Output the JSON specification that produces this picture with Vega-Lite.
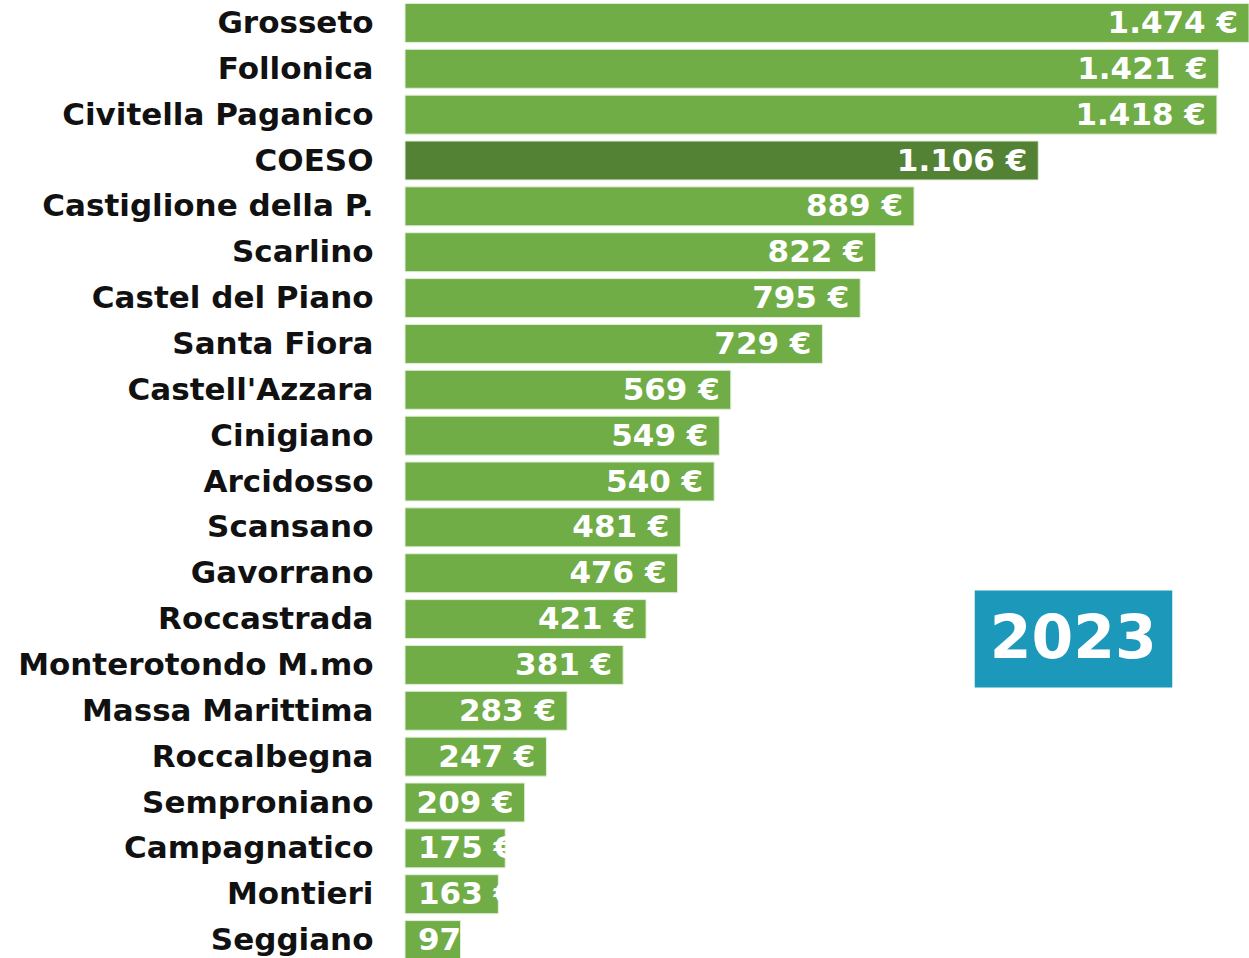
{
  "$schema": "https://vega.github.io/schema/vega-lite/v6.json",
  "width": 844,
  "height": 963,
  "autosize": {"type": "none"},
  "padding": {"left": 405, "top": 0, "right": 0, "bottom": 0},
  "background": "white",
  "config": {
    "view": {"stroke": null},
    "locale": {"number": {"decimal": ",", "thousands": ".", "grouping": [3], "currency": ["", " €"]}},
    "font": "DejaVu Sans"
  },
  "data": {
    "values": [
      {"comune": "Grosseto", "valore": 1474, "tipo": "comune"},
      {"comune": "Follonica", "valore": 1421, "tipo": "comune"},
      {"comune": "Civitella Paganico", "valore": 1418, "tipo": "comune"},
      {"comune": "COESO", "valore": 1106, "tipo": "coeso"},
      {"comune": "Castiglione della P.", "valore": 889, "tipo": "comune"},
      {"comune": "Scarlino", "valore": 822, "tipo": "comune"},
      {"comune": "Castel del Piano", "valore": 795, "tipo": "comune"},
      {"comune": "Santa Fiora", "valore": 729, "tipo": "comune"},
      {"comune": "Castell'Azzara", "valore": 569, "tipo": "comune"},
      {"comune": "Cinigiano", "valore": 549, "tipo": "comune"},
      {"comune": "Arcidosso", "valore": 540, "tipo": "comune"},
      {"comune": "Scansano", "valore": 481, "tipo": "comune"},
      {"comune": "Gavorrano", "valore": 476, "tipo": "comune"},
      {"comune": "Roccastrada", "valore": 421, "tipo": "comune"},
      {"comune": "Monterotondo M.mo", "valore": 381, "tipo": "comune"},
      {"comune": "Massa Marittima", "valore": 283, "tipo": "comune"},
      {"comune": "Roccalbegna", "valore": 247, "tipo": "comune"},
      {"comune": "Semproniano", "valore": 209, "tipo": "comune"},
      {"comune": "Campagnatico", "valore": 175, "tipo": "comune"},
      {"comune": "Montieri", "valore": 163, "tipo": "comune"},
      {"comune": "Seggiano", "valore": 97, "tipo": "comune"}
    ]
  },
  "encoding": {
    "y": {
      "field": "comune", "type": "nominal", "sort": null,
      "scale": {"paddingInner": 0.15, "paddingOuter": 0.075},
      "axis": {"title": null, "ticks": false, "domain": false, "labelFontSize": 31, "labelFontWeight": "bold", "labelColor": "#111111", "labelPadding": 32, "labelLimit": 420, "labelOffset": 1}
    }
  },
  "layer": [
    {
      "mark": {"type": "bar", "stroke": "#E2EFDA", "strokeWidth": 1},
      "encoding": {
        "x": {"field": "valore", "type": "quantitative", "scale": {"domain": [0, 1474], "nice": false}, "axis": null},
        "color": {"field": "tipo", "type": "nominal", "scale": {"domain": ["comune", "coeso"], "range": ["#70AD47", "#548235"]}, "legend": null}
      }
    },
    {
      "transform": [{"filter": "datum.valore >= 200"}],
      "mark": {"type": "text", "align": "right", "dx": -11, "dy": 1, "baseline": "middle", "fontSize": 31, "fontWeight": "bold", "color": "white"},
      "encoding": {
        "x": {"field": "valore", "type": "quantitative"},
        "text": {"field": "valore", "type": "quantitative", "format": "$,.0f"}
      }
    },
    {
      "transform": [{"filter": "datum.valore < 200"}],
      "mark": {"type": "text", "align": "left", "dx": 13, "dy": 1, "baseline": "middle", "fontSize": 31, "fontWeight": "bold", "color": "white"},
      "encoding": {
        "x": {"datum": 0},
        "text": {"field": "valore", "type": "quantitative", "format": "$,.0f"}
      }
    },
    {
      "data": {"values": [{"anno": "2023", "x1": 995, "x2": 1340, "riga": "Roccastrada"}]},
      "mark": {"type": "bar", "color": "#1C98BA", "height": 97, "yOffset": 20},
      "encoding": {
        "y": {"field": "riga", "type": "nominal"},
        "x": {"field": "x1", "type": "quantitative"},
        "x2": {"field": "x2"}
      }
    },
    {
      "data": {"values": [{"anno": "2023", "xc": 1167, "riga": "Roccastrada"}]},
      "mark": {"type": "text", "color": "white", "fontSize": 60, "fontWeight": "bold", "align": "center", "baseline": "middle", "dy": 21},
      "encoding": {
        "y": {"field": "riga", "type": "nominal"},
        "x": {"field": "xc", "type": "quantitative"},
        "text": {"field": "anno"}
      }
    }
  ]
}
